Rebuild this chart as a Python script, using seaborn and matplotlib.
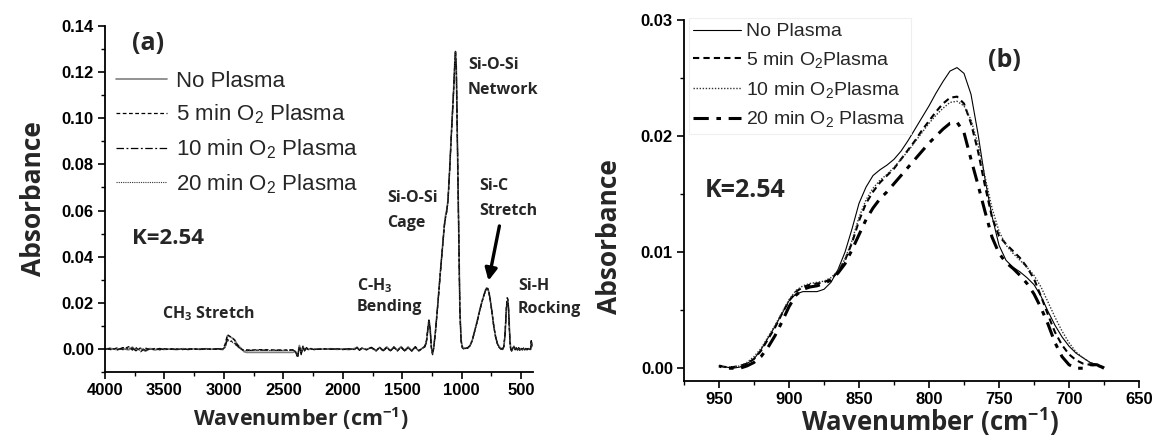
import matplotlib
matplotlib.use("Agg")
import matplotlib.pyplot as plt
import seaborn as sns
import pandas as pd
from matplotlib.ticker import MultipleLocator, FormatStrFormatter

# ---------------- data: panel (a), full FTIR spectra ----------------
wn_a = [4000, 3950, 3900, 3850, 3800, 3770, 3740, 3700, 3660, 3620,
        3580, 3540, 3500, 3450, 3400, 3350, 3300, 3250, 3200, 3150,
        3100, 3050, 3010, 2990, 2970, 2955, 2940, 2925, 2910, 2890,
        2870, 2850, 2830, 2810, 2780, 2700, 2600, 2500, 2420, 2400,
        2380, 2365, 2350, 2335, 2320, 2305, 2290, 2270, 2240, 2200,
        2150, 2100, 2050, 2000, 1950, 1900, 1880, 1860, 1840, 1800,
        1760, 1720, 1690, 1660, 1630, 1600, 1570, 1540, 1510, 1480,
        1450, 1420, 1390, 1360, 1330, 1310, 1295, 1285, 1275, 1265,
        1255, 1245, 1235, 1220, 1200, 1180, 1160, 1145, 1135, 1125,
        1115, 1100, 1085, 1075, 1068, 1062, 1058, 1052, 1045, 1035,
        1025, 1015, 1005, 995, 985, 970, 950, 930, 910, 890,
        870, 850, 830, 815, 800, 790, 780, 770, 760, 745,
        730, 715, 700, 685, 670, 655, 645, 635, 625, 618,
        612, 606, 600, 594, 588, 580, 570, 560, 550, 540,
        530, 520, 510, 500, 490, 480, 470, 460, 450, 440,
        430, 420, 414, 410]

no_plasma_a = [0.0000, 0.0002, -0.0003, 0.0001, -0.0004, 0.0008, -0.0006, 0.0003, -0.0010, 0.0002,
               -0.0005, 0.0001, -0.0002, 0.0000, -0.0003, 0.0001, -0.0001, 0.0000, -0.0002, 0.0001,
               -0.0001, 0.0000, -0.0003, 0.0010, 0.0058, 0.0055, 0.0050, 0.0046, 0.0040, 0.0022,
               0.0010, 0.0000, -0.0012, -0.0015, -0.0015, -0.0015, -0.0015, -0.0015, -0.0015, -0.0012,
               -0.0030, 0.0015, -0.0008, 0.0010, -0.0005, 0.0002, -0.0003, 0.0001, -0.0002, 0.0000,
               -0.0001, 0.0001, -0.0002, 0.0000, -0.0003, 0.0002, 0.0008, -0.0004, 0.0003, -0.0002,
               0.0006, -0.0008, 0.0007, -0.0006, 0.0009, -0.0007, 0.0008, -0.0005, 0.0010, -0.0006,
               0.0009, -0.0007, 0.0006, -0.0009, 0.0004, 0.0010, 0.0035, 0.0085, 0.0125, 0.0090,
               0.0010, -0.0020, 0.0005, 0.0080, 0.0200, 0.0330, 0.0450, 0.0540, 0.0580, 0.0605,
               0.0645, 0.0790, 0.0950, 0.1050, 0.1120, 0.1190, 0.1240, 0.1290, 0.1220, 0.0850,
               0.0510, 0.0170, 0.0040, 0.0010, 0.0005, 0.0003, 0.0005, 0.0015, 0.0040, 0.0080,
               0.0120, 0.0165, 0.0205, 0.0230, 0.0255, 0.0265, 0.0262, 0.0245, 0.0215, 0.0160,
               0.0100, 0.0055, 0.0025, 0.0010, 0.0003, 0.0000, 0.0010, 0.0060, 0.0160, 0.0205,
               0.0210, 0.0180, 0.0110, 0.0040, 0.0005, -0.0008, 0.0002, 0.0012, -0.0002, 0.0005,
               -0.0006, 0.0003, -0.0004, 0.0002, -0.0005, 0.0001, -0.0003, 0.0002, -0.0004, 0.0001,
               -0.0002, 0.0000, 0.0030, 0.0010]

o2_5min_a = [0.0002, -0.0003, 0.0004, -0.0002, 0.0010, -0.0005, 0.0006, -0.0012, 0.0004, -0.0003,
             0.0002, -0.0004, 0.0001, -0.0002, 0.0000, -0.0003, 0.0001, -0.0002, 0.0000, -0.0001,
             0.0000, -0.0002, 0.0000, 0.0020, 0.0062, 0.0056, 0.0052, 0.0045, 0.0038, 0.0020,
             0.0008, -0.0002, -0.0006, -0.0004, -0.0005, -0.0003, -0.0004, -0.0005, -0.0004, -0.0008,
             -0.0035, 0.0012, -0.0020, 0.0006, -0.0010, 0.0004, -0.0002, 0.0000, -0.0003, -0.0001,
             0.0000, -0.0002, 0.0001, -0.0003, 0.0000, -0.0002, 0.0005, -0.0006, 0.0002, -0.0004,
             0.0005, -0.0009, 0.0008, -0.0010, 0.0006, -0.0008, 0.0009, -0.0009, 0.0007, -0.0010,
             0.0006, -0.0010, 0.0008, -0.0008, 0.0002, 0.0012, 0.0040, 0.0090, 0.0130, 0.0085,
             0.0005, -0.0025, 0.0003, 0.0075, 0.0195, 0.0325, 0.0445, 0.0535, 0.0570, 0.0595,
             0.0640, 0.0785, 0.0945, 0.1045, 0.1115, 0.1185, 0.1235, 0.1285, 0.1215, 0.0845,
             0.0505, 0.0165, 0.0035, 0.0005, 0.0000, 0.0002, 0.0004, 0.0013, 0.0038, 0.0077,
             0.0117, 0.0162, 0.0202, 0.0228, 0.0252, 0.0262, 0.0260, 0.0243, 0.0212, 0.0158,
             0.0098, 0.0052, 0.0022, 0.0006, -0.0001, -0.0003, 0.0012, 0.0068, 0.0175, 0.0222,
             0.0218, 0.0175, 0.0100, 0.0030, -0.0002, -0.0010, 0.0004, 0.0010, -0.0004, 0.0003,
             -0.0003, 0.0005, -0.0006, 0.0003, -0.0002, 0.0004, -0.0005, 0.0000, -0.0002, 0.0003,
             0.0000, -0.0003, 0.0040, 0.0015]

o2_10min_a = [-0.0002, 0.0004, -0.0005, 0.0006, -0.0001, 0.0004, -0.0008, 0.0005, -0.0006, 0.0000,
              -0.0003, 0.0002, -0.0004, 0.0001, -0.0002, 0.0000, -0.0003, 0.0001, -0.0001, 0.0000,
              -0.0002, 0.0001, -0.0001, 0.0008, 0.0042, 0.0038, 0.0035, 0.0030, 0.0026, 0.0014,
              0.0005, -0.0003, -0.0007, -0.0006, -0.0006, -0.0005, -0.0006, -0.0006, -0.0005, -0.0010,
              -0.0038, 0.0008, -0.0025, 0.0012, -0.0006, 0.0006, -0.0004, 0.0002, -0.0001, -0.0002,
              0.0001, -0.0001, 0.0000, -0.0002, 0.0001, -0.0003, 0.0004, -0.0005, 0.0004, -0.0003,
              0.0007, -0.0006, 0.0005, -0.0008, 0.0008, -0.0010, 0.0006, -0.0007, 0.0009, -0.0008,
              0.0004, -0.0008, 0.0010, -0.0006, 0.0003, 0.0009, 0.0030, 0.0080, 0.0120, 0.0082,
              0.0008, -0.0018, 0.0006, 0.0078, 0.0198, 0.0328, 0.0448, 0.0538, 0.0575, 0.0600,
              0.0642, 0.0788, 0.0948, 0.1048, 0.1118, 0.1188, 0.1238, 0.1288, 0.1218, 0.0848,
              0.0508, 0.0168, 0.0038, 0.0008, 0.0003, 0.0002, 0.0004, 0.0014, 0.0039, 0.0078,
              0.0118, 0.0163, 0.0203, 0.0229, 0.0253, 0.0263, 0.0261, 0.0244, 0.0213, 0.0159,
              0.0099, 0.0054, 0.0024, 0.0008, 0.0001, -0.0002, 0.0011, 0.0064, 0.0168, 0.0214,
              0.0214, 0.0178, 0.0105, 0.0035, 0.0002, -0.0009, 0.0003, 0.0011, -0.0003, 0.0004,
              -0.0004, 0.0004, -0.0005, 0.0002, -0.0003, 0.0003, -0.0004, 0.0001, -0.0003, 0.0002,
              -0.0001, -0.0002, 0.0035, 0.0012]

o2_20min_a = [0.0001, -0.0001, 0.0002, -0.0004, 0.0005, -0.0002, 0.0002, -0.0007, 0.0001, -0.0002,
              0.0000, -0.0002, 0.0000, -0.0001, -0.0002, 0.0000, -0.0002, 0.0000, -0.0001, 0.0000,
              -0.0001, 0.0000, -0.0002, 0.0006, 0.0038, 0.0034, 0.0032, 0.0027, 0.0022, 0.0012,
              0.0004, -0.0004, -0.0008, -0.0007, -0.0007, -0.0006, -0.0007, -0.0007, -0.0006, -0.0009,
              -0.0032, 0.0010, -0.0015, 0.0008, -0.0008, 0.0003, -0.0003, 0.0001, -0.0002, -0.0001,
              0.0000, -0.0001, 0.0000, -0.0001, 0.0000, -0.0002, 0.0006, -0.0003, 0.0003, -0.0002,
              0.0004, -0.0007, 0.0006, -0.0007, 0.0007, -0.0009, 0.0007, -0.0008, 0.0008, -0.0009,
              0.0005, -0.0009, 0.0007, -0.0007, 0.0003, 0.0010, 0.0032, 0.0082, 0.0122, 0.0084,
              0.0006, -0.0022, 0.0004, 0.0077, 0.0197, 0.0327, 0.0447, 0.0537, 0.0573, 0.0598,
              0.0641, 0.0786, 0.0946, 0.1046, 0.1116, 0.1186, 0.1236, 0.1286, 0.1216, 0.0846,
              0.0506, 0.0166, 0.0036, 0.0006, 0.0001, 0.0001, 0.0003, 0.0012, 0.0036, 0.0075,
              0.0115, 0.0160, 0.0200, 0.0226, 0.0250, 0.0260, 0.0258, 0.0241, 0.0210, 0.0156,
              0.0096, 0.0050, 0.0020, 0.0005, -0.0001, -0.0003, 0.0010, 0.0062, 0.0165, 0.0212,
              0.0212, 0.0176, 0.0102, 0.0032, 0.0000, -0.0009, 0.0003, 0.0009, -0.0003, 0.0003,
              -0.0004, 0.0004, -0.0005, 0.0002, -0.0003, 0.0003, -0.0004, 0.0001, -0.0003, 0.0002,
              -0.0001, -0.0002, 0.0030, 0.0012]

# ---------------- data: panel (b), Si-C stretch region ----------------
wn_b = [950, 945, 940, 935, 930, 925, 920, 915, 910, 905,
        900, 895, 890, 885, 880, 875, 870, 865, 860, 855,
        850, 845, 840, 835, 830, 825, 820, 815, 810, 805,
        800, 795, 790, 785, 780, 775, 770, 765, 760, 755,
        750, 745, 740, 735, 730, 725, 720, 715, 710, 705,
        700, 695, 690, 685, 680, 675]

no_plasma_b = [0.0002, 0.0001, 0.0000, 0.0001, 0.0004, 0.0008, 0.0016, 0.0026, 0.0036, 0.0047,
               0.0058, 0.0064, 0.0066, 0.0066, 0.0066, 0.0068, 0.0074, 0.0085, 0.0100, 0.0120,
               0.0142, 0.0156, 0.0166, 0.0171, 0.0175, 0.0180, 0.0187, 0.0196, 0.0206, 0.0216,
               0.0226, 0.0237, 0.0247, 0.0256, 0.0259, 0.0254, 0.0236, 0.0202, 0.0163, 0.0131,
               0.0106, 0.0093, 0.0087, 0.0083, 0.0078, 0.0072, 0.0062, 0.0049, 0.0037, 0.0027,
               0.0019, 0.0013, 0.0009, 0.0005, 0.0003, 0.0001]

o2_5min_b = [0.0002, 0.0001, 0.0001, 0.0002, 0.0004, 0.0008, 0.0015, 0.0025, 0.0035, 0.0047,
             0.0058, 0.0066, 0.0070, 0.0072, 0.0073, 0.0074, 0.0077, 0.0083, 0.0093, 0.0108,
             0.0127, 0.0142, 0.0152, 0.0160, 0.0166, 0.0172, 0.0180, 0.0188, 0.0196, 0.0205,
             0.0213, 0.0221, 0.0228, 0.0233, 0.0234, 0.0228, 0.0211, 0.0187, 0.0157, 0.0130,
             0.0114, 0.0107, 0.0101, 0.0095, 0.0087, 0.0077, 0.0062, 0.0046, 0.0031, 0.0020,
             0.0012, 0.0007, 0.0004, 0.0003, 0.0002, 0.0001]

o2_10min_b = [0.0002, 0.0001, 0.0001, 0.0002, 0.0005, 0.0010, 0.0017, 0.0027, 0.0037, 0.0048,
              0.0059, 0.0067, 0.0071, 0.0073, 0.0074, 0.0075, 0.0078, 0.0084, 0.0094, 0.0110,
              0.0130, 0.0145, 0.0155, 0.0162, 0.0167, 0.0173, 0.0180, 0.0187, 0.0195, 0.0203,
              0.0211, 0.0218, 0.0224, 0.0229, 0.0230, 0.0226, 0.0214, 0.0193, 0.0165, 0.0138,
              0.0118, 0.0106, 0.0099, 0.0093, 0.0087, 0.0080, 0.0070, 0.0057, 0.0044, 0.0032,
              0.0022, 0.0014, 0.0009, 0.0005, 0.0003, 0.0001]

o2_20min_b = [0.0002, 0.0000, 0.0000, 0.0000, 0.0002, 0.0005, 0.0010, 0.0018, 0.0028, 0.0040,
              0.0053, 0.0063, 0.0068, 0.0070, 0.0071, 0.0073, 0.0076, 0.0082, 0.0090, 0.0102,
              0.0115, 0.0128, 0.0138, 0.0146, 0.0152, 0.0159, 0.0166, 0.0173, 0.0180, 0.0187,
              0.0194, 0.0200, 0.0206, 0.0211, 0.0212, 0.0203, 0.0180, 0.0158, 0.0135, 0.0113,
              0.0099, 0.0091, 0.0086, 0.0080, 0.0073, 0.0064, 0.0052, 0.0038, 0.0022, 0.0010,
              0.0003, 0.0000, 0.0000, 0.0003, 0.0003, 0.0000]

labels_a = ["No Plasma", "5 min O$_2$ Plasma", "10 min O$_2$ Plasma", "20 min O$_2$ Plasma"]
labels_b = ["No Plasma", "5 min O$_2$Plasma", "10 min O$_2$Plasma", "20 min O$_2$ Plasma"]

# ---------------- styling ----------------
sns.set_style("ticks")
plt.rcParams["font.family"] = ["Liberation Sans", "DejaVu Sans"]
plt.rcParams["font.weight"] = "bold"
plt.rcParams["mathtext.fontset"] = "custom"
plt.rcParams["mathtext.rm"] = "Liberation Sans:normal"
plt.rcParams["mathtext.it"] = "Liberation Sans:italic:normal"
plt.rcParams["mathtext.bf"] = "Open Sans:bold"

HEAD = dict(family=["Open Sans", "DejaVu Sans"], weight="bold")
LEGEND_FONT = dict(family=["Liberation Sans", "DejaVu Sans"], weight="normal")

fig = plt.figure(figsize=(11.58, 4.46), dpi=100)
fig.patch.set_facecolor("white")
ax_a = fig.add_axes([105 / 1158, 1 - 372 / 446, 428 / 1158, 346 / 446])
ax_b = fig.add_axes([684 / 1158, 1 - 381 / 446, 455 / 1158, 361 / 446])

styles_a = [
    dict(color="#7f7f7f", lw=1.2, linestyle="-"),
    dict(color="black", lw=0.9, linestyle=(0, (3, 2))),
    dict(color="black", lw=0.9, linestyle=(0, (6, 2, 1.5, 2))),
    dict(color="#333333", lw=0.8, linestyle=(0, (1, 1))),
]
styles_b = [
    dict(color="black", lw=0.8, linestyle="-"),
    dict(color="black", lw=1.5, linestyle=(0, (3, 2))),
    dict(color="#333333", lw=1.0, linestyle=(0, (1, 1.2))),
    dict(color="black", lw=2.2, linestyle=(0, (5, 2.5, 1.5, 2.5))),
]

series_a = [no_plasma_a, o2_5min_a, o2_10min_a, o2_20min_a]
series_b = [no_plasma_b, o2_5min_b, o2_10min_b, o2_20min_b]

for vals, lab, st in zip(series_a, labels_a, styles_a):
    df = pd.DataFrame({"wn": wn_a, "absorbance": vals})
    sns.lineplot(data=df, x="wn", y="absorbance", ax=ax_a, estimator=None,
                 label=lab, legend=False, **st)

for vals, lab, st in zip(series_b, labels_b, styles_b):
    df = pd.DataFrame({"wn": wn_b, "absorbance": vals})
    sns.lineplot(data=df, x="wn", y="absorbance", ax=ax_b, estimator=None,
                 label=lab, legend=False, **st)

# ---------------- axes ----------------
ax_a.set_xlim(4000, 400)
ax_a.set_ylim(-0.01, 0.14)
ax_a.xaxis.set_major_locator(MultipleLocator(500))
ax_a.xaxis.set_minor_locator(MultipleLocator(250))
ax_a.yaxis.set_major_locator(MultipleLocator(0.02))
ax_a.yaxis.set_minor_locator(MultipleLocator(0.01))
ax_a.yaxis.set_major_formatter(FormatStrFormatter("%.2f"))

ax_b.set_xlim(975, 650)
ax_b.set_ylim(-0.0011, 0.030)
ax_b.xaxis.set_major_locator(MultipleLocator(50))
ax_b.xaxis.set_minor_locator(MultipleLocator(25))
ax_b.yaxis.set_major_locator(MultipleLocator(0.01))
ax_b.yaxis.set_minor_locator(MultipleLocator(0.005))
ax_b.yaxis.set_major_formatter(FormatStrFormatter("%.2f"))

for ax in (ax_a, ax_b):
    sns.despine(ax=ax)
    for s in ("left", "bottom"):
        ax.spines[s].set_linewidth(1.3)
        ax.spines[s].set_color("black")
    ax.tick_params(which="major", direction="out", length=5, width=1.2,
                   labelsize=12, colors="black", pad=3)
    ax.tick_params(which="minor", direction="out", length=3, width=1.0, colors="black")

ax_a.set_xlabel("Wavenumber (cm$^{\\mathbf{-1}}$)", fontsize=15.5, **HEAD)
ax_a.set_ylabel("Absorbance", fontsize=19, **HEAD)
ax_b.set_xlabel("Wavenumber (cm$^{\\mathbf{-1}}$)", fontsize=18.5, **HEAD)
ax_b.set_ylabel("Absorbance", fontsize=19, **HEAD)

ax_a.xaxis.set_label_coords(0.458, -0.095)
ax_a.yaxis.set_label_coords(-0.135, 0.5)
ax_b.xaxis.set_label_coords(0.54, -0.07)
ax_b.yaxis.set_label_coords(-0.135, 0.4)

# ---------------- legends ----------------
ax_a.legend(loc="upper left", bbox_to_anchor=(0.005, 0.897), frameon=False,
            prop=dict(size=16, **LEGEND_FONT), handlelength=2.3, handletextpad=0.4,
            labelspacing=0.5, borderaxespad=0.0)
leg_b = ax_b.legend(loc="upper left", bbox_to_anchor=(0.01, 1.006), frameon=True,
                    prop=dict(size=14, **LEGEND_FONT), handlelength=2.45, handletextpad=0.25,
                    labelspacing=0.5, borderaxespad=0.0, fancybox=False, borderpad=0.25)
leg_b.get_frame().set_edgecolor("#ececec")
leg_b.get_frame().set_linewidth(0.8)
leg_b.get_frame().set_facecolor("none")

# ---------------- annotations, panel (a) ----------------
ax_a.text(3770, 0.1325, "(a)", fontsize=18, ha="left", va="center", **HEAD)
ax_a.text(3770, 0.048, "K=2.54", fontsize=16, ha="left", va="center", **HEAD)
ax_a.text(3521, 0.0153, "CH$_\\mathbf{3}$ Stretch", fontsize=11.5, ha="left", va="center", **HEAD)
ax_a.text(1881, 0.0275, "C-H$_\\mathbf{3}$", fontsize=11.5, ha="left", va="center", **HEAD)
ax_a.text(1881, 0.0183, "Bending", fontsize=11.5, ha="left", va="center", **HEAD)
ax_a.text(1628, 0.0654, "Si-O-Si", fontsize=11.5, ha="left", va="center", **HEAD)
ax_a.text(1628, 0.0545, "Cage", fontsize=11.5, ha="left", va="center", **HEAD)
ax_a.text(947, 0.1230, "Si-O-Si", fontsize=11.5, ha="left", va="center", **HEAD)
ax_a.text(947, 0.1121, "Network", fontsize=11.5, ha="left", va="center", **HEAD)
ax_a.text(854, 0.0707, "Si-C", fontsize=11.5, ha="left", va="center", **HEAD)
ax_a.text(854, 0.0598, "Stretch", fontsize=11.5, ha="left", va="center", **HEAD)
ax_a.text(527, 0.0275, "Si-H", fontsize=11.5, ha="left", va="center", **HEAD)
ax_a.text(527, 0.0175, "Rocking", fontsize=11.5, ha="left", va="center", **HEAD)
ax_a.annotate("", xy=(779, 0.0284), xytext=(678, 0.0545),
              arrowprops=dict(arrowstyle="-|>", lw=2.4, color="black", mutation_scale=18))

# ---------------- annotations, panel (b) ----------------
ax_b.text(758, 0.0265, "(b)", fontsize=18, ha="left", va="center", **HEAD)
ax_b.text(960, 0.0153, "K=2.54", fontsize=18, ha="left", va="center", **HEAD)

fig.savefig("out.png", dpi=100, facecolor="white")
